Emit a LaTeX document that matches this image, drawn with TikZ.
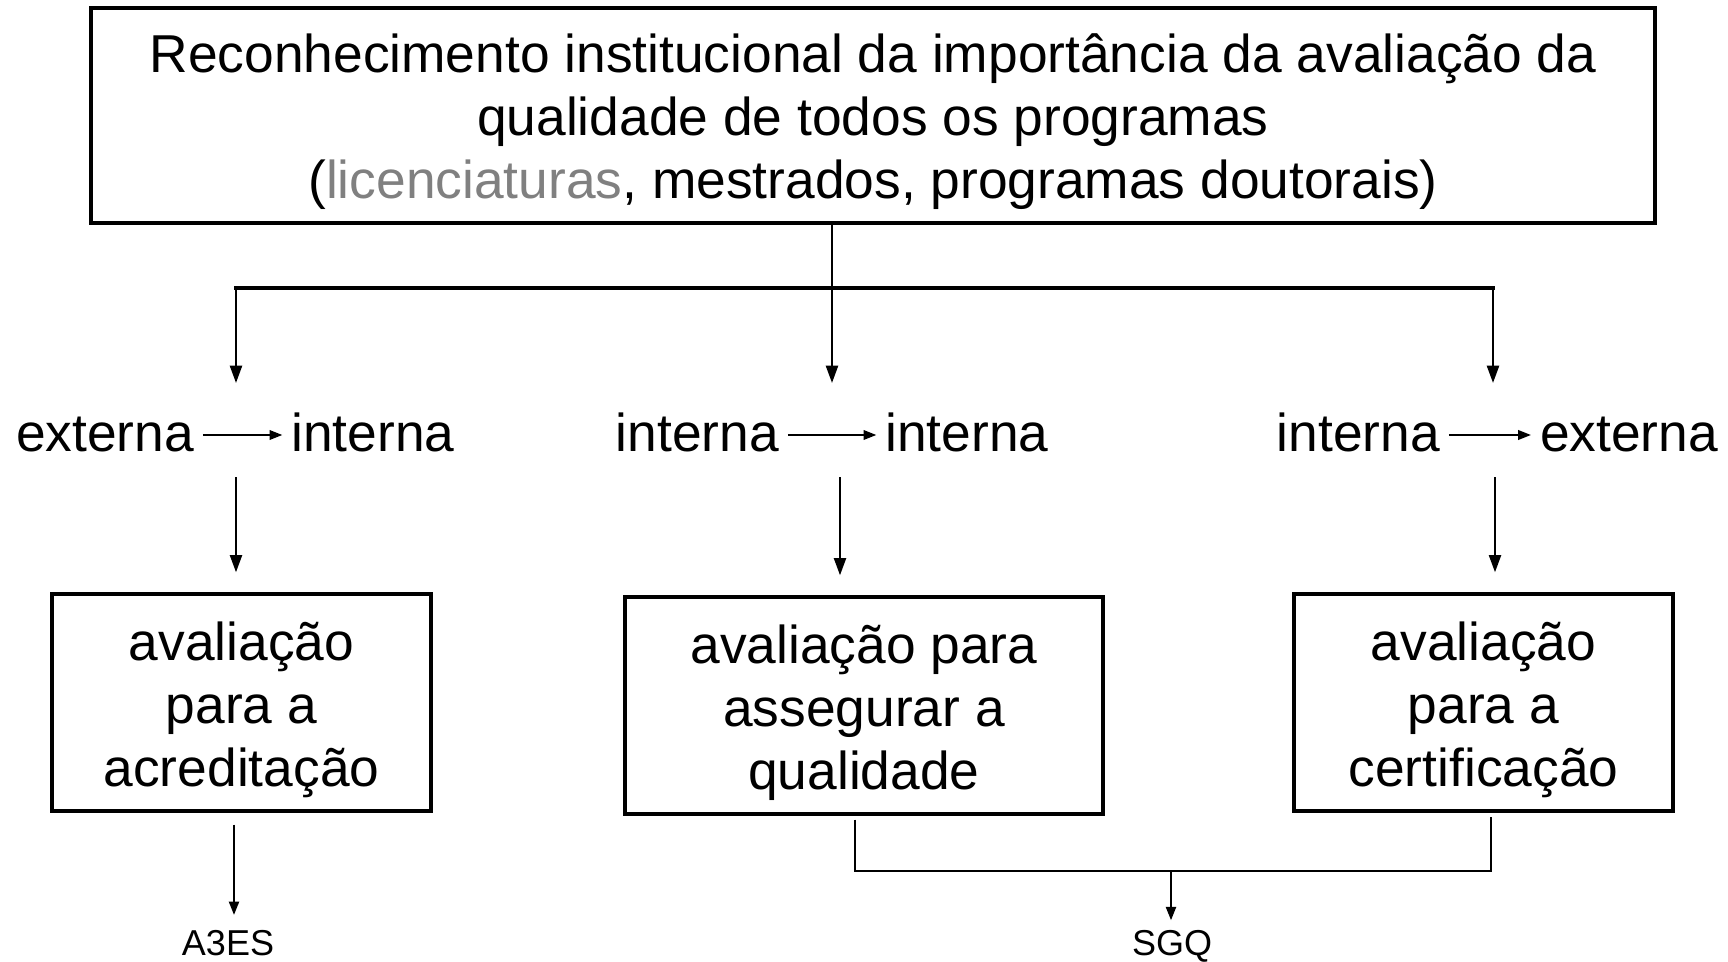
\documentclass[tikz,border=0pt]{standalone}
\usepackage{fontspec}
\setmainfont{Liberation Sans}
\usetikzlibrary{arrows.meta,calc}
\definecolor{lgray}{RGB}{128,128,128}
\begin{document}
\begin{tikzpicture}[x=0.75pt,y=-0.75pt,
  boxnode/.style={draw,line width=2.5pt,align=center,font=\fontsize{40}{47.5}\selectfont,inner sep=0pt},
  word/.style={anchor=base,font=\fontsize{40}{47}\selectfont,text height=24pt,text depth=0pt,inner xsep=6.5pt,inner ysep=0pt},
  downarrow/.style={line width=1.8pt,-{Triangle[length=13pt,width=9pt]}},
  harrow/.style={line width=1.9pt,-{Triangle[length=9.75pt,width=7pt]}},
  hbar/.style={line width=3.3pt,line cap=rect},
  thinline/.style={line width=1.7pt},
  tharrow/.style={line width=1.6pt,-{Triangle[length=10pt,width=7.5pt]}},
  smalllabel/.style={font=\fontsize{27}{32}\selectfont,inner sep=0pt,anchor=base}
]
\useasboundingbox[fill=white] (0,0) rectangle (1728,961);

% top box
\node[boxnode, minimum width=1173pt, minimum height=161.25pt] (top) at (873,115.5)
  {\rule{0pt}{38.5pt}Reconhecimento institucional da importância da avaliação da\\
   qualidade de todos os programas\\
   ({\color{lgray}licenciaturas}, mestrados, programas doutorais)};

% distribution bar
\coordinate (bl) at (236,288);
\coordinate (br) at (1493,288);
\coordinate (tl) at (236,383);
\coordinate (tc) at (832,383);
\coordinate (tr) at (1493,383);
\draw[hbar] (bl) -- (br);
\draw[downarrow] (bl) -- (tl);
\draw[downarrow] (br) -- (tr);
\draw[downarrow] (top.south -| tc) -- (tc);

% row of words
\node[word] (e1) at (105,451) {externa};
\node[word] (i1) at (373,451) {interna};
\node[word] (i2) at (697.5,451) {interna};
\node[word] (i3) at (967,451) {interna};
\node[word] (i4) at (1358.5,451) {interna};
\node[word] (e2) at (1629,451) {externa};
\draw[harrow] (e1) -- (i1);
\draw[harrow] (i2) -- (i3);
\draw[harrow] (i4) -- (e2);

% boxes
\node[boxnode, minimum width=284.25pt, minimum height=162.75pt] (lbox) at (241.5,702.5)
  {\rule{0pt}{40pt}avaliação\\ para a\\ acreditação};
\node[boxnode, minimum width=358.5pt, minimum height=162.75pt] (mbox) at (864,705.5)
  {\rule{0pt}{40pt}avaliação para\\ assegurar a\\ qualidade};
\node[boxnode, minimum width=284.25pt, minimum height=162.75pt] (rbox) at (1483.5,702.5)
  {\rule{0pt}{40pt}avaliação\\ para a\\ certificação};

\coordinate (v1) at (236,477);
\coordinate (v2) at (840,477);
\coordinate (v3) at (1495,477);
\draw[downarrow, shorten >=15pt] (v1) -- (v1 |- lbox.north);
\draw[downarrow, shorten >=15pt] (v2) -- (v2 |- mbox.north);
\draw[downarrow, shorten >=15pt] (v3) -- (v3 |- rbox.north);

% bottom labels
\node[smalllabel] (a3es) at (228,955) {A3ES};
\node[smalllabel] (sgq) at (1172,955) {SGQ};

\coordinate (d1) at (234,811);
\draw[tharrow, shorten <=9pt, shorten >=11pt] (lbox.south -| d1) -- (d1 |- a3es.north);

\coordinate (s1) at (855,871);
\coordinate (s2) at (1491,871);
\coordinate (sm) at (1171,871);
\draw[thinline, shorten <=3pt, shorten >=3pt] (mbox.south -| s1) -- (s1) -- (s2) -- (rbox.south -| s2);
\draw[tharrow, shorten >=7pt] (sm) -- (sm |- sgq.north);
\end{tikzpicture}
\end{document}
